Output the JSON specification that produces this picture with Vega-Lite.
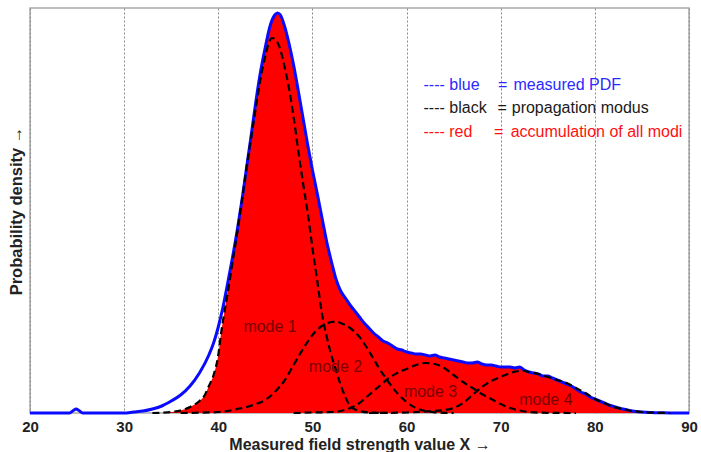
{
  "$schema": "https://vega.github.io/schema/vega-lite/v6.json",
  "width": 659,
  "height": 405,
  "autosize": "none",
  "padding": {"left": 30, "top": 8, "right": 12, "bottom": 39},
  "background": "white",
  "config": {
    "font": "Liberation Sans",
    "view": {"stroke": "#a8a8a8", "strokeWidth": 1.5}
  },
  "datasets": {
    "curves": [
      {"s":"blue","x":20,"y":0},{"s":"blue","x":24.2,"y":0},{"s":"blue","x":24.6,"y":2.5},{"s":"blue","x":24.9,"y":4},{"s":"blue","x":25.2,"y":2.5},{"s":"blue","x":25.6,"y":0},{"s":"blue","x":30,"y":0},{"s":"blue","x":31,"y":1},{"s":"blue","x":32,"y":2},{"s":"blue","x":33,"y":4},{"s":"blue","x":34,"y":7},{"s":"blue","x":35,"y":12},{"s":"blue","x":36,"y":18},{"s":"blue","x":37,"y":27},{"s":"blue","x":38,"y":40},{"s":"blue","x":39,"y":58},{"s":"blue","x":39.5,"y":70},{"s":"blue","x":40,"y":86},{"s":"blue","x":40.5,"y":106},{"s":"blue","x":41,"y":130},{"s":"blue","x":41.5,"y":155},{"s":"blue","x":42,"y":182},{"s":"blue","x":42.5,"y":212},{"s":"blue","x":43,"y":245},{"s":"blue","x":43.5,"y":278},{"s":"blue","x":44,"y":312},{"s":"blue","x":44.5,"y":342},{"s":"blue","x":45,"y":366},{"s":"blue","x":45.5,"y":387},{"s":"blue","x":46,"y":398},{"s":"blue","x":46.3,"y":400},{"s":"blue","x":46.6,"y":398},{"s":"blue","x":47,"y":388},{"s":"blue","x":47.5,"y":370},{"s":"blue","x":48,"y":348},{"s":"blue","x":48.5,"y":322},{"s":"blue","x":49,"y":295},{"s":"blue","x":49.5,"y":268},{"s":"blue","x":50,"y":243},{"s":"blue","x":50.5,"y":220},{"s":"blue","x":51,"y":196},{"s":"blue","x":51.5,"y":172},{"s":"blue","x":52,"y":152},{"s":"blue","x":52.5,"y":134},{"s":"blue","x":53,"y":122},{"s":"blue","x":53.5,"y":115},{"s":"blue","x":54,"y":108},{"s":"blue","x":54.5,"y":102},{"s":"blue","x":55,"y":96},{"s":"blue","x":55.5,"y":90},{"s":"blue","x":56,"y":85},{"s":"blue","x":56.5,"y":80},{"s":"blue","x":57,"y":76},{"s":"blue","x":57.5,"y":72},{"s":"blue","x":58,"y":70},{"s":"blue","x":58.5,"y":67},{"s":"blue","x":59,"y":64},{"s":"blue","x":59.5,"y":63},{"s":"blue","x":60,"y":61},{"s":"blue","x":60.5,"y":60},{"s":"blue","x":61,"y":59},{"s":"blue","x":61.5,"y":59},{"s":"blue","x":62,"y":58},{"s":"blue","x":62.5,"y":57},{"s":"blue","x":63,"y":58},{"s":"blue","x":63.5,"y":56},{"s":"blue","x":64,"y":55},{"s":"blue","x":64.5,"y":54},{"s":"blue","x":65,"y":53},{"s":"blue","x":65.5,"y":52},{"s":"blue","x":66,"y":51},{"s":"blue","x":66.5,"y":50},{"s":"blue","x":67,"y":50},{"s":"blue","x":67.5,"y":51},{"s":"blue","x":68,"y":49},{"s":"blue","x":68.5,"y":48},{"s":"blue","x":69,"y":48},{"s":"blue","x":69.5,"y":47},{"s":"blue","x":70,"y":46},{"s":"blue","x":70.5,"y":46},{"s":"blue","x":71,"y":46},{"s":"blue","x":71.5,"y":45},{"s":"blue","x":72,"y":46},{"s":"blue","x":72.5,"y":43},{"s":"blue","x":73,"y":41},{"s":"blue","x":73.5,"y":40},{"s":"blue","x":74,"y":39},{"s":"blue","x":74.5,"y":37},{"s":"blue","x":75,"y":37},{"s":"blue","x":75.5,"y":35},{"s":"blue","x":76,"y":33},{"s":"blue","x":76.5,"y":31},{"s":"blue","x":77,"y":29},{"s":"blue","x":77.5,"y":27},{"s":"blue","x":78,"y":24},{"s":"blue","x":78.5,"y":21},{"s":"blue","x":79,"y":19},{"s":"blue","x":79.5,"y":16},{"s":"blue","x":80,"y":14},{"s":"blue","x":80.5,"y":12},{"s":"blue","x":81,"y":10},{"s":"blue","x":81.5,"y":8},{"s":"blue","x":82,"y":6.5},{"s":"blue","x":82.5,"y":5},{"s":"blue","x":83,"y":4},{"s":"blue","x":83.5,"y":3},{"s":"blue","x":84,"y":2},{"s":"blue","x":85,"y":1},{"s":"blue","x":86,"y":0.5},{"s":"blue","x":87,"y":0.2},{"s":"blue","x":88,"y":0},{"s":"blue","x":90,"y":0},

      {"s":"red","x":34,"y":0},{"s":"red","x":35,"y":1},{"s":"red","x":36,"y":2.5},{"s":"red","x":37,"y":6},{"s":"red","x":38,"y":12},{"s":"red","x":38.5,"y":17},{"s":"red","x":39,"y":27},{"s":"red","x":39.5,"y":38},{"s":"red","x":40,"y":58},{"s":"red","x":40.3,"y":80},{"s":"red","x":40.6,"y":98},{"s":"red","x":41,"y":122},{"s":"red","x":41.5,"y":153},{"s":"red","x":42,"y":182},{"s":"red","x":42.5,"y":212},{"s":"red","x":43,"y":245},{"s":"red","x":43.5,"y":278},{"s":"red","x":44,"y":312},{"s":"red","x":44.5,"y":342},{"s":"red","x":45,"y":366},{"s":"red","x":45.5,"y":387},{"s":"red","x":46,"y":398},{"s":"red","x":46.3,"y":400},{"s":"red","x":46.6,"y":398},{"s":"red","x":47,"y":388},{"s":"red","x":47.5,"y":370},{"s":"red","x":48,"y":348},{"s":"red","x":48.5,"y":322},{"s":"red","x":49,"y":295},{"s":"red","x":49.5,"y":268},{"s":"red","x":50,"y":243},{"s":"red","x":50.5,"y":220},{"s":"red","x":51,"y":196},{"s":"red","x":51.5,"y":172},{"s":"red","x":52,"y":152},{"s":"red","x":52.5,"y":134},{"s":"red","x":53,"y":122},{"s":"red","x":53.5,"y":115},{"s":"red","x":54,"y":108},{"s":"red","x":54.5,"y":102},{"s":"red","x":55,"y":96},{"s":"red","x":55.5,"y":90},{"s":"red","x":56,"y":85},{"s":"red","x":56.5,"y":80},{"s":"red","x":57,"y":76},{"s":"red","x":57.5,"y":72},{"s":"red","x":58,"y":70},{"s":"red","x":58.5,"y":67},{"s":"red","x":59,"y":64},{"s":"red","x":59.5,"y":63},{"s":"red","x":60,"y":61},{"s":"red","x":60.5,"y":60},{"s":"red","x":61,"y":59},{"s":"red","x":61.5,"y":59},{"s":"red","x":62,"y":58},{"s":"red","x":62.5,"y":57},{"s":"red","x":63,"y":58},{"s":"red","x":63.5,"y":56},{"s":"red","x":64,"y":55},{"s":"red","x":64.5,"y":54},{"s":"red","x":65,"y":53},{"s":"red","x":65.5,"y":52},{"s":"red","x":66,"y":51},{"s":"red","x":66.5,"y":50},{"s":"red","x":67,"y":50},{"s":"red","x":67.5,"y":51},{"s":"red","x":68,"y":49},{"s":"red","x":68.5,"y":48},{"s":"red","x":69,"y":48},{"s":"red","x":69.5,"y":47},{"s":"red","x":70,"y":46},{"s":"red","x":70.5,"y":46},{"s":"red","x":71,"y":46},{"s":"red","x":71.5,"y":45},{"s":"red","x":72,"y":46},{"s":"red","x":72.5,"y":43},{"s":"red","x":73,"y":41},{"s":"red","x":73.5,"y":40},{"s":"red","x":74,"y":39},{"s":"red","x":74.5,"y":37},{"s":"red","x":75,"y":37},{"s":"red","x":75.5,"y":35},{"s":"red","x":76,"y":33},{"s":"red","x":76.5,"y":31},{"s":"red","x":77,"y":29},{"s":"red","x":77.5,"y":27},{"s":"red","x":78,"y":24},{"s":"red","x":78.5,"y":21},{"s":"red","x":79,"y":19},{"s":"red","x":79.5,"y":16},{"s":"red","x":80,"y":14},{"s":"red","x":80.5,"y":12},{"s":"red","x":81,"y":10},{"s":"red","x":81.5,"y":8},{"s":"red","x":82,"y":6.5},{"s":"red","x":82.5,"y":5},{"s":"red","x":83,"y":4},{"s":"red","x":83.5,"y":3},{"s":"red","x":84,"y":2},{"s":"red","x":85,"y":1},{"s":"red","x":86,"y":0.5},{"s":"red","x":87,"y":0},

      {"s":"m1","x":33,"y":0},{"s":"m1","x":34,"y":0.3},{"s":"m1","x":35,"y":1},{"s":"m1","x":36,"y":2.5},{"s":"m1","x":37,"y":6},{"s":"m1","x":38,"y":12},{"s":"m1","x":38.5,"y":17},{"s":"m1","x":39,"y":27},{"s":"m1","x":39.5,"y":38},{"s":"m1","x":40,"y":58},{"s":"m1","x":40.3,"y":80},{"s":"m1","x":40.6,"y":98},{"s":"m1","x":41,"y":120},{"s":"m1","x":41.5,"y":150},{"s":"m1","x":42,"y":180},{"s":"m1","x":42.5,"y":212},{"s":"m1","x":43,"y":245},{"s":"m1","x":43.5,"y":276},{"s":"m1","x":44,"y":306},{"s":"m1","x":44.5,"y":335},{"s":"m1","x":45,"y":357},{"s":"m1","x":45.3,"y":368},{"s":"m1","x":45.7,"y":375},{"s":"m1","x":46,"y":374},{"s":"m1","x":46.5,"y":366},{"s":"m1","x":47,"y":348},{"s":"m1","x":47.5,"y":325},{"s":"m1","x":48,"y":296},{"s":"m1","x":48.5,"y":262},{"s":"m1","x":49,"y":230},{"s":"m1","x":49.5,"y":200},{"s":"m1","x":50,"y":165},{"s":"m1","x":50.5,"y":133},{"s":"m1","x":51,"y":100},{"s":"m1","x":51.5,"y":77},{"s":"m1","x":52,"y":58},{"s":"m1","x":52.5,"y":43},{"s":"m1","x":53,"y":28},{"s":"m1","x":53.5,"y":16},{"s":"m1","x":54,"y":7},{"s":"m1","x":55,"y":2},{"s":"m1","x":56,"y":0.5},{"s":"m1","x":58,"y":0},

      {"s":"m2","x":36,"y":0},{"s":"m2","x":38,"y":0.3},{"s":"m2","x":40,"y":1},{"s":"m2","x":41,"y":2},{"s":"m2","x":42,"y":4},{"s":"m2","x":43,"y":6},{"s":"m2","x":44,"y":9},{"s":"m2","x":45,"y":13},{"s":"m2","x":46,"y":21},{"s":"m2","x":47,"y":32},{"s":"m2","x":48,"y":48},{"s":"m2","x":49,"y":64},{"s":"m2","x":50,"y":78},{"s":"m2","x":51,"y":87},{"s":"m2","x":52,"y":91},{"s":"m2","x":52.5,"y":91.5},{"s":"m2","x":53,"y":90},{"s":"m2","x":54,"y":85},{"s":"m2","x":55,"y":76},{"s":"m2","x":56,"y":62},{"s":"m2","x":57,"y":46},{"s":"m2","x":58,"y":32},{"s":"m2","x":59,"y":20},{"s":"m2","x":60,"y":11},{"s":"m2","x":61,"y":5},{"s":"m2","x":62,"y":2},{"s":"m2","x":63,"y":0.7},{"s":"m2","x":65,"y":0},

      {"s":"m3","x":48,"y":0},{"s":"m3","x":50,"y":0.5},{"s":"m3","x":52,"y":1},{"s":"m3","x":53,"y":2},{"s":"m3","x":54,"y":5},{"s":"m3","x":55,"y":10},{"s":"m3","x":56,"y":18},{"s":"m3","x":57,"y":26},{"s":"m3","x":58,"y":34},{"s":"m3","x":59,"y":40},{"s":"m3","x":60,"y":44},{"s":"m3","x":61,"y":48},{"s":"m3","x":62,"y":50},{"s":"m3","x":63,"y":49},{"s":"m3","x":64,"y":45},{"s":"m3","x":65,"y":38},{"s":"m3","x":66,"y":31},{"s":"m3","x":67,"y":25},{"s":"m3","x":68,"y":19},{"s":"m3","x":69,"y":14},{"s":"m3","x":70,"y":9},{"s":"m3","x":71,"y":5},{"s":"m3","x":72,"y":2.5},{"s":"m3","x":73,"y":1},{"s":"m3","x":75,"y":0.2},{"s":"m3","x":78,"y":0},

      {"s":"m4","x":56,"y":0},{"s":"m4","x":60,"y":0.5},{"s":"m4","x":62,"y":1.5},{"s":"m4","x":64,"y":3},{"s":"m4","x":65,"y":5},{"s":"m4","x":66,"y":10},{"s":"m4","x":67,"y":18},{"s":"m4","x":68,"y":26},{"s":"m4","x":69,"y":32},{"s":"m4","x":70,"y":36},{"s":"m4","x":71,"y":40},{"s":"m4","x":72,"y":42},{"s":"m4","x":72.5,"y":42},{"s":"m4","x":73,"y":41},{"s":"m4","x":74,"y":39},{"s":"m4","x":75,"y":36},{"s":"m4","x":76,"y":33},{"s":"m4","x":77,"y":30},{"s":"m4","x":78,"y":25},{"s":"m4","x":79,"y":20},{"s":"m4","x":80,"y":14},{"s":"m4","x":81,"y":10},{"s":"m4","x":82,"y":6},{"s":"m4","x":83,"y":4},{"s":"m4","x":84,"y":2},{"s":"m4","x":85,"y":1},{"s":"m4","x":86,"y":0.4},{"s":"m4","x":88,"y":0}
    ],
    "legendText": [
      {"g":"blue","x":61.8,"y":328,"t":"---- blue"},
      {"g":"blue","x":69.7,"y":328,"t":"="},
      {"g":"blue","x":71.35,"y":328,"t":"measured PDF"},
      {"g":"black","x":61.8,"y":305,"t":"---- black"},
      {"g":"black","x":69.65,"y":305,"t":"="},
      {"g":"black","x":71.17,"y":305,"t":"propagation modus"},
      {"g":"red","x":61.8,"y":281,"t":"---- red"},
      {"g":"red","x":69.3,"y":281,"t":"="},
      {"g":"red","x":71.06,"y":281,"t":"accumulation of all modi"}
    ],
    "modeText": [
      {"x":45.5,"y":86,"t":"mode 1"},
      {"x":52.45,"y":46,"t":"mode 2"},
      {"x":62.55,"y":21,"t":"mode 3"},
      {"x":74.8,"y":13,"t":"mode 4"}
    ]
  },
  "layer": [
    {
      "data": {"name": "curves"},
      "transform": [{"filter": "datum.s === 'red'"}],
      "mark": {"type": "area", "color": "#ff0000", "interpolate": "monotone"},
      "encoding": {
        "x": {
          "field": "x", "type": "quantitative",
          "scale": {"domain": [20, 90], "nice": false, "zero": false},
          "axis": {
            "values": [20, 30, 40, 50, 60, 70, 80, 90],
            "title": "Measured field strength value X →",
            "titleFontSize": 16, "titleFontWeight": "bold", "titleColor": "#222",
            "titlePadding": 2,
            "labelFontSize": 15, "labelFontWeight": "bold", "labelColor": "#222",
            "labelPadding": 6, "labelFlush": false,
            "ticks": false, "domain": false,
            "grid": true, "gridDash": [2, 2], "gridColor": "#8a8a8a", "gridWidth": 1
          }
        },
        "y": {
          "field": "y", "type": "quantitative",
          "scale": {"domain": [0, 405], "nice": false},
          "axis": {
            "title": "Probability  density →",
            "titleFontSize": 16.5, "titleFontWeight": "bold", "titleColor": "#222",
            "titlePadding": 6,
            "labels": false, "ticks": false, "domain": false, "grid": false
          }
        }
      }
    },
    {
      "data": {"name": "curves"},
      "transform": [{"filter": "datum.s === 'blue'"}],
      "mark": {"type": "line", "color": "#0a0aff", "strokeWidth": 3, "interpolate": "monotone"},
      "encoding": {
        "x": {"field": "x", "type": "quantitative"},
        "y": {"field": "y", "type": "quantitative"}
      }
    },
    {
      "data": {"name": "curves"},
      "transform": [{"filter": "datum.s !== 'blue' && datum.s !== 'red'"}],
      "mark": {"type": "line", "color": "#000000", "strokeWidth": 2.2, "strokeDash": [7, 4], "interpolate": "monotone"},
      "encoding": {
        "x": {"field": "x", "type": "quantitative"},
        "y": {"field": "y", "type": "quantitative"},
        "detail": {"field": "s"}
      }
    },
    {
      "data": {"name": "legendText"},
      "mark": {"type": "text", "align": "left", "baseline": "middle", "fontSize": 16},
      "encoding": {
        "x": {"field": "x", "type": "quantitative"},
        "y": {"field": "y", "type": "quantitative"},
        "text": {"field": "t"},
        "color": {
          "field": "g", "type": "nominal",
          "scale": {"domain": ["blue", "black", "red"], "range": ["#2a2aff", "#1a1a1a", "#ff1010"]},
          "legend": null
        }
      }
    },
    {
      "data": {"name": "modeText"},
      "mark": {"type": "text", "align": "center", "baseline": "middle", "fontSize": 16, "color": "#7a0000"},
      "encoding": {
        "x": {"field": "x", "type": "quantitative"},
        "y": {"field": "y", "type": "quantitative"},
        "text": {"field": "t"}
      }
    }
  ]
}
